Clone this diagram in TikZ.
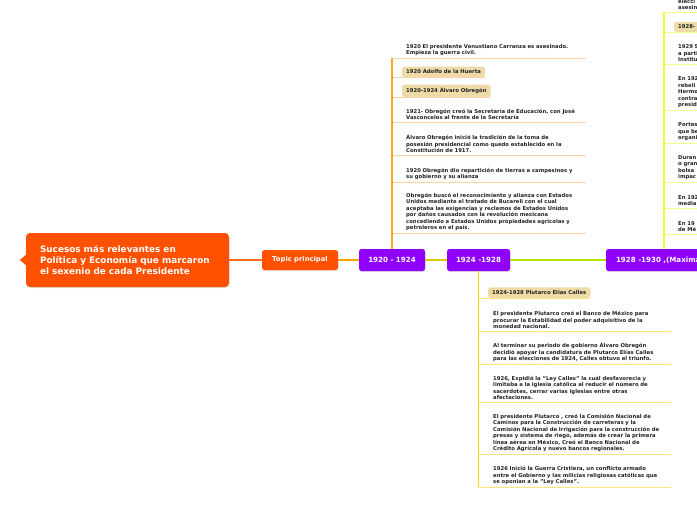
\documentclass[tikz,border=0pt]{standalone}
\usepackage{fontspec}
\setmainfont{DejaVu Sans}
\usetikzlibrary{shadows}

\definecolor{mainorange}{HTML}{FF5100}
\definecolor{periodpurple}{HTML}{9000FF}
\definecolor{tagbeige}{HTML}{EFDBA8}
\definecolor{stemorange}{HTML}{FFA41C}
\definecolor{lineorange}{HTML}{FFD3A6}
\definecolor{stemgold}{HTML}{FFD400}
\definecolor{linegold}{HTML}{FFE57A}
\definecolor{stemlime}{HTML}{EEFF33}
\definecolor{linelime}{HTML}{F3FF85}
\definecolor{itemtext}{HTML}{222222}
\definecolor{linkred}{HTML}{FF6E14}
\definecolor{linkorange}{HTML}{FFA000}
\definecolor{linkyellow}{HTML}{DEC800}
\definecolor{linkgreen}{HTML}{B4E600}

\newcommand{\itemfont}{\fontsize{5.3}{6.5}\selectfont\bfseries}

\begin{document}
\begin{tikzpicture}[x=1pt, y=-1pt,
  mainbox/.style={rectangle, rounded corners=4pt, fill=mainorange, text=white, font=\fontsize{8.9}{11}\selectfont\bfseries, align=left, text width=175pt, minimum width=203pt, minimum height=54pt, inner xsep=14pt, drop shadow={opacity=0.25, shadow xshift=0.5pt, shadow yshift=-1pt}},
  topicbox/.style={rectangle, rounded corners=2.5pt, fill=mainorange, text=white, font=\fontsize{6.8}{8}\selectfont\bfseries, minimum width=76pt, minimum height=20pt, inner sep=0pt, drop shadow={opacity=0.25, shadow xshift=0.5pt, shadow yshift=-1pt}},
  periodbox/.style={topicbox, fill=periodpurple, font=\fontsize{7.1}{8}\selectfont\bfseries, minimum height=22pt},
  item/.style={anchor=south west, align=left, text width=#1, inner xsep=0pt, inner ysep=2pt, font=\itemfont, text=itemtext},
  tagbox/.style={anchor=south west, fill=tagbeige, rounded corners=1.5pt, inner xsep=4pt, inner ysep=3pt, font=\itemfont, text=itemtext},
  stem/.style={line width=1.5pt, draw=#1},
  uline/.style={line width=0.9pt, draw=#1},
  link/.style={line width=1.6pt, draw=#1}]
\useasboundingbox (0,0) rectangle (697,520);
\clip (0,0) rectangle (697,520);

% root and topic
\node[mainbox] (M) at (127.5,260) {Sucesos más relevantes en\\Política y Economía que marcaron\\el sexenio de cada Presidente};
\fill[mainorange] ([yshift=5pt]M.west) -- ([xshift=-6pt]M.west) -- ([yshift=-5pt]M.west) -- cycle;
\node[topicbox] (TP) at (300,260) {Topic principal};

% periods
\node[periodbox, minimum width=66pt] (P1) at (392,260) {1920 - 1924};
\node[periodbox, minimum width=63pt] (P2) at (478.5,260) {1924 -1928};
\node[periodbox, minimum width=116pt] (P3) at (664,260) {1928 -1930 ,(Maximato)};

\draw[link=linkred] (M) -- (TP);
\draw[link=linkorange] (TP) -- (P1);
\draw[link=linkyellow] (P1) -- (P2);
\draw[link=linkgreen] (P2) -- (P3);

% 1920 - 1924
\node[item=176pt] (A1) at (406,58) {1920 El presidente Venustiano Carranza es asesinado.\\Empieza la guerra civil.};
\node[tagbox] (A2) at (402,77) {1920 Adolfo de la Huerta};
\node[tagbox] (A3) at (402,97) {1920-1924 Álvaro Obregón};
\node[item=176pt] (A4) at (406,122) {1921- Obregón creó la Secretaría de Educación, con José\\Vasconcelos al frente de la Secretaría};
\node[item=176pt] (A5) at (406,155) {Álvaro Obregón inició la tradición de la toma de\\posesión presidencial como quedo establecido en la\\Constitución de 1917.};
\node[item=176pt] (A6) at (406,182) {1920 Obregón dio repartición de tierras a campesinos y\\su gobierno y su alianza};
\node[item=176pt] (A7) at (406,233) {Obregón buscó el reconocimiento y alianza con Estados\\Unidos mediante el tratado de Bucareli con el cual\\aceptaba las exigencias y reclamos de Estados Unidos\\por daños causados con la revolución mexicana\\concediendo a Estados Unidos propiedades agrícolas y\\petroleros  en el país.};

\draw[uline=lineorange] (A1.south -| P1) -- ++(194,0);
\draw[uline=lineorange] (A2.south -| P1) -- (A2.south east);
\draw[uline=lineorange] (A3.south -| P1) -- (A3.south east);
\draw[uline=lineorange] (A4.south -| P1) -- ++(194,0);
\draw[uline=lineorange] (A5.south -| P1) -- ++(194,0);
\draw[uline=lineorange] (A6.south -| P1) -- ++(194,0);
\draw[uline=lineorange] (A7.south -| P1) -- ++(194,0);
\draw[stem=stemorange] (P1) -- (P1 |- A1.south);

% 1924 -1928
\node[tagbox] (B1) at (488,298) {1924-1928 Plutarco Elías Calles};
\node[item=178pt] (B2) at (493,331) {El presidente Plutarco creó el Banco de México para\\procurar la Estabilidad del poder adquisitivo de la\\monedad nacional.};
\node[item=178pt] (B3) at (493,364) {Al terminar su periodo de gobierno Álvaro Obregón\\decidió apoyar la candidatura de Plutarco Elías Calles\\para las elecciones de 1924, Calles obtuvo el triunfo.};
\node[item=178pt] (B4) at (493,402) {1926, Expidió la "Ley Calles" la cuál desfavorecia y\\limitaba a la iglesia católica al reducir el número de\\sacerdotes, cerrar varias iglesias entre otras\\afectaciones.};
\node[item=178pt] (B5) at (493,454) {El presidente Plutarco , creó la Comisión Nacional de\\Caminos para la Construcción de carreteras y la\\Comisión Nacional de Irrigación para la construcción de\\presas y sistema de riego, además de crear la primera\\línea aérea en México,  Creó el Banco Nacional de\\Crédito Agrícola y nuevo bancos regionales.};
\node[item=178pt] (B6) at (493,487) {1926 Inició la Guerra Cristiera, un conflicto armado\\entre el Gobierno y las milicias religiosas católicas que\\se oponian a la "Ley Calles".};

\draw[uline=linegold] (B1.south -| P2) -- (B1.south east);
\draw[uline=linegold] (B2.south -| P2) -- ++(192,0);
\draw[uline=linegold] (B3.south -| P2) -- ++(192,0);
\draw[uline=linegold] (B4.south -| P2) -- ++(192,0);
\draw[uline=linegold] (B5.south -| P2) -- ++(192,0);
\draw[uline=linegold] (B6.south -| P2) -- ++(192,0);
\draw[stem=stemgold] (P2) -- (P2 |- B6.south);

% 1928 -1930
\node[item=60pt] (C1) at (678,12) {elecci\\asesin};
\node[tagbox] (C2) at (674,32) {1928-};
\node[item=60pt] (C3) at (678,64) {1929 S\\a parti\\Institu};
\node[item=60pt] (C4) at (678,110) {En 192\\rebeli\\Hermo\\contra\\presid};
\node[item=60pt] (C5) at (678,143) {Portes\\que be\\organi};
\node[item=60pt] (C6) at (678,182) {Duran\\o gran\\bolsa\\impac};
\node[item=60pt] (C7) at (678,208) {En 192\\media};
\node[item=60pt] (C8) at (678,234) {En  19\\de Mé};

\draw[uline=linelime] (C1.south -| P3) -- ++(40,0);
\draw[uline=linelime] (C2.south -| P3) -- ++(40,0);
\draw[uline=linelime] (C3.south -| P3) -- ++(40,0);
\draw[uline=linelime] (C4.south -| P3) -- ++(40,0);
\draw[uline=linelime] (C5.south -| P3) -- ++(40,0);
\draw[uline=linelime] (C6.south -| P3) -- ++(40,0);
\draw[uline=linelime] (C7.south -| P3) -- ++(40,0);
\draw[uline=linelime] (C8.south -| P3) -- ++(40,0);
\draw[stem=stemlime] (P3) -- (P3 |- C1.south);
\end{tikzpicture}
\end{document}
